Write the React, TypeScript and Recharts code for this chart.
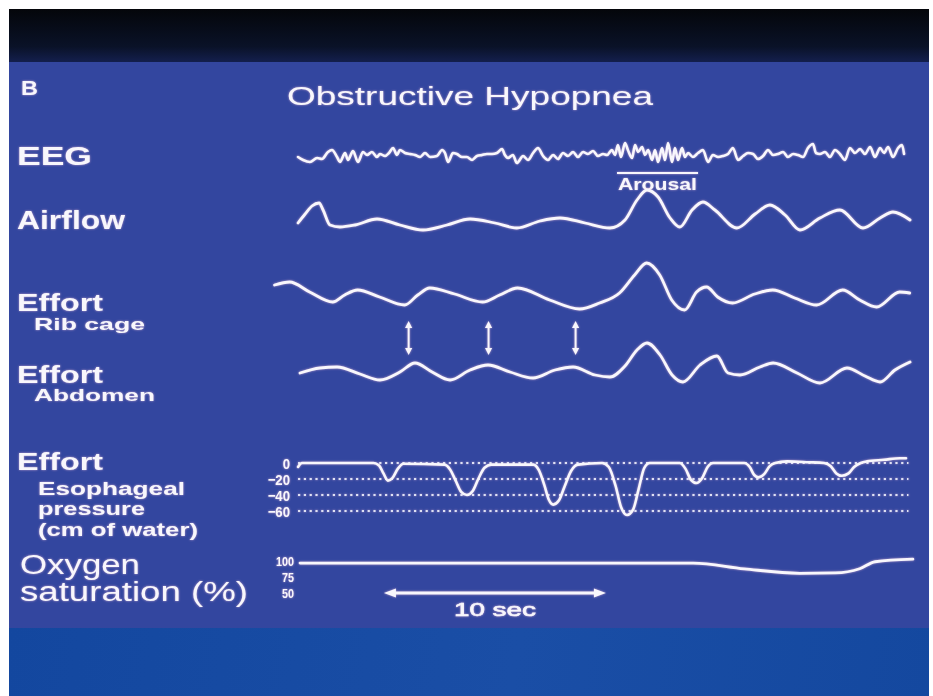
import React from 'react';
import { LineChart, Line, XAxis, YAxis, ReferenceLine } from 'recharts';

// ---- scale of the recording (time axis) ----
const PX_PER_SEC = 22.2;
const T0_X = 298;
const PAD = 6;
const FONT = '"Liberation Sans", Arial, Helvetica, sans-serif';
const INK = '#f8f7fc';
const GLOW = 'drop-shadow(0 0 1px rgba(255,200,225,0.65))';

type Pt = [number, number];

// ---- signals: [time (s), value] ----
const EEG: Pt[] = [
  [0, -1], [0.23, -4], [0.54, -6], [0.86, -2], [1.08, -3], [1.35, 4], [1.53, 6], [1.76, -1], [1.89, -6],
  [2.12, 3], [2.25, -4], [2.48, 5], [2.7, -6], [2.93, 4], [3.11, 1], [3.33, 4], [3.56, -1], [3.69, 2],
  [3.92, 0], [4.1, 3], [4.28, 8], [4.46, 1], [4.59, 6], [4.82, 3], [5.05, 2], [5.27, 1], [5.5, -1],
  [5.72, 3], [5.95, -1], [6.26, 0], [6.49, 6], [6.62, 3], [6.76, -6], [6.98, 3], [7.16, 2], [7.39, -1],
  [7.61, -1], [7.84, -4], [8.06, 0], [8.29, 1], [8.51, 2], [8.74, 2], [8.96, 3], [9.19, 7], [9.32, 1],
  [9.46, -2], [9.68, 1], [9.86, -7], [10.14, 0], [10.36, -4], [10.59, 3], [10.81, 8], [11.04, 0],
  [11.26, -4], [11.49, 1], [11.71, -3], [11.94, 3], [12.16, 0], [12.39, 4], [12.61, -1], [12.84, 4],
  [13.06, 2], [13.29, 5], [13.51, 0], [13.74, 2], [13.92, 1], [14.14, 6], [14.28, 1], [14.41, 11],
  [14.55, -1], [14.73, 13], [14.86, 6], [15.05, -2], [15.18, 11], [15.32, 4], [15.5, 9], [15.63, 1],
  [15.77, 6], [15.95, -4], [16.08, 6], [16.22, -6], [16.4, 8], [16.53, -4], [16.67, 13], [16.85, -6],
  [16.98, 8], [17.12, -4], [17.3, 8], [17.43, -1], [17.57, 3], [17.79, -1], [18.02, 3], [18.24, 6],
  [18.47, -6], [18.69, 1], [18.92, -1], [19.14, 0], [19.37, 2], [19.59, 8], [19.82, -4], [20.05, 0],
  [20.27, 3], [20.5, 2], [20.72, -3], [20.95, 0], [21.17, 6], [21.4, 1], [21.62, 2], [21.85, 4],
  [22.07, -1], [22.3, 2], [22.52, 1], [22.75, -1], [22.97, 8], [23.2, 12], [23.33, 3], [23.51, 2],
  [23.74, 4], [23.96, -1], [24.19, 6], [24.41, 2], [24.64, -4], [24.86, 8], [25.09, 3], [25.32, 7],
  [25.54, 2], [25.77, 9], [25.99, -1], [26.22, 8], [26.4, 3], [26.58, 9], [26.8, -1], [27.03, 8],
  [27.21, 11], [27.3, 2],
];

const AIRFLOW: Pt[] = [
  [0, 4], [0.32, 13], [0.63, 21], [0.95, 24], [1.13, 17], [1.44, 2], [1.89, 0], [2.57, 2], [3.56, 8],
  [4.59, 2], [5.63, -3], [6.71, 2], [7.75, 8], [8.87, 4], [9.86, -1], [10.9, 6], [11.8, 9], [12.93, 4],
  [14.05, -1], [14.73, 7], [15.27, 27], [15.72, 37], [16.22, 30], [16.76, 9], [17.2, 0], [17.75, 17],
  [18.24, 25], [18.78, 17], [19.77, -1], [20.59, 13], [21.26, 22], [21.94, 12], [22.61, -3], [23.51, 9],
  [24.41, 17], [25.45, -1], [26.22, 9], [26.8, 15], [27.57, 7],
];

const RIB_CAGE: Pt[] = [
  [-1.04, 15], [-0.36, 18], [0.54, 8], [1.58, -2], [2.12, 5], [2.7, 10], [3.69, 3], [4.82, -5], [5.41, 5],
  [5.95, 12], [7.07, 6], [8.33, -2], [9.1, 5], [9.91, 12], [11.35, 0], [12.7, -9], [13.6, -3], [14.5, 7],
  [15.18, 25], [15.72, 37], [16.31, 25], [16.85, 0], [17.43, -10], [17.97, 8], [18.42, 13], [18.92, 3],
  [19.59, -3], [20.59, 6], [21.4, 10], [22.39, 2], [23.38, -5], [24.55, 10], [25.32, 0], [26.08, -7],
  [27.12, 8], [27.57, 7],
];

const ABDOMEN: Pt[] = [
  [0.09, -1], [0.99, 4], [1.76, 5], [2.79, -2], [3.69, -8], [4.59, 0], [5.27, 9], [6.04, 0], [6.85, -8],
  [7.75, 2], [8.56, 7], [9.55, 0], [10.59, -6], [11.58, 2], [12.39, 5], [13.38, -3], [14.05, -5],
  [14.73, 6], [15.27, 22], [15.72, 29], [16.31, 17], [16.85, -3], [17.34, -10], [18.11, 7], [18.87, 16],
  [19.37, -1], [19.91, -3], [20.81, 5], [21.4, 9], [22.48, -1], [23.51, -11], [24.73, 4], [25.54, -4],
  [26.22, -10], [26.89, 2], [27.57, 10],
];

// esophageal pressure, cm H2O
const ESOPHAGEAL: Pt[] = [
  [0, -5], [0.18, 0], [1.5, 0], [3.4, 0],
  [3.65, -3], [3.85, -13], [4.05, -22], [4.25, -19], [4.5, -7], [4.75, -1],
  [6.6, -2],
  [6.85, -8], [7.1, -22], [7.35, -36], [7.61, -40], [7.87, -35], [8.12, -20], [8.4, -6], [8.7, -2],
  [10.6, -2],
  [10.85, -9], [11.1, -28], [11.3, -46], [11.5, -52], [11.75, -47], [12.0, -30], [12.3, -10], [12.6, -2],
  [13.7, 0],
  [14.0, -5], [14.3, -28], [14.55, -55], [14.82, -65], [15.1, -58], [15.35, -32], [15.6, -6], [15.85, 0],
  [17.2, 0],
  [17.45, -7], [17.7, -21], [17.95, -25], [18.2, -19], [18.45, -5], [18.7, 0],
  [20.1, 0],
  [20.35, -5], [20.55, -15], [20.75, -18], [21.0, -14], [21.25, -4], [21.5, 0],
  [22.03, 2], [23.0, 1], [23.7, 0],
  [24.0, -4], [24.25, -13], [24.5, -16], [24.8, -13], [25.05, -5], [25.35, 0],
  [25.63, 2], [26.4, 4], [27.12, 6], [27.39, 6],
];

// oxygen saturation, %
const SPO2: Pt[] = [
  [0.09, 97], [10.0, 97], [17.8, 97], [20.1, 88], [22.6, 81], [24.2, 81.5], [25.3, 88], [26.0, 99], [27.7, 103],
];

const ESO_TICKS = [0, -20, -40, -60];
const SPO2_TICKS = [100, 75, 50];
const PARADOX_ARROWS = [5.0, 8.6, 12.52];
const AROUSAL_SPAN: [number, number] = [14.37, 18.02];
const SCALE_BAR = { start: 3.87, seconds: 10 };

const toRows = (pts: Pt[]) => pts.map(([t, v]) => ({ t, v }));

type PanelProps = {
  data: { t: number; v?: number }[];
  tDomain: [number, number];
  vDomain: [number, number];
  refV: number;
  refY: number;
  k: number;
  axisWidth?: number;
  ticks?: number[];
  tick?: any;
  tickMargin?: number;
  curve?: 'linear' | 'monotone';
  strokeWidth?: number;
  showLine?: boolean;
  children?: React.ReactNode;
};

function Panel(p: PanelProps) {
  const aw = p.axisWidth ?? 0;
  const plotW = (p.tDomain[1] - p.tDomain[0]) * PX_PER_SEC;
  const plotH = (p.vDomain[1] - p.vDomain[0]) * p.k;
  const plotTop = p.refY - (p.vDomain[1] - p.refV) * p.k;
  const plotLeft = T0_X + p.tDomain[0] * PX_PER_SEC;
  const width = plotW + aw + 2 * PAD;
  const height = plotH + 2 * PAD;
  const showLine = p.showLine !== false;
  return (
    <div style={{ position: 'absolute', left: plotLeft - aw - PAD, top: plotTop - PAD, width, height, filter: GLOW }}>
      <LineChart width={width} height={height} data={p.data} margin={{ top: PAD, right: PAD, bottom: PAD, left: PAD }}>
        <XAxis dataKey="t" type="number" domain={p.tDomain} hide />
        <YAxis
          type="number"
          domain={p.vDomain}
          hide={!p.ticks}
          width={aw}
          ticks={p.ticks}
          tick={p.tick}
          interval={0}
          axisLine={false}
          tickLine={false}
          tickSize={0}
          tickMargin={p.tickMargin ?? 4}
        />
        {p.children}
        <Line
          dataKey="v"
          type={p.curve ?? 'monotone'}
          stroke={showLine ? INK : 'none'}
          strokeWidth={p.strokeWidth ?? 2.8}
          strokeLinecap="round"
          strokeLinejoin="round"
          dot={false}
          activeDot={false}
          isAnimationActive={false}
        />
      </LineChart>
    </div>
  );
}

const makeTick = (size: number, sx: number, fmt: (v: number) => string) => (props: any) => {
  const { x, y, payload } = props;
  return (
    <text
      transform={`translate(${x},${y}) scale(${sx},1)`}
      x={0}
      y={0}
      dy="0.36em"
      textAnchor="end"
      fontFamily={FONT}
      fontWeight={700}
      fontSize={size}
      fill={INK}
    >
      {fmt(payload.value)}
    </text>
  );
};

const esoTick = makeTick(15.5, 0.85, (v) => (v === 0 ? '0' : '\u2212' + Math.abs(v)));
const spo2Tick = makeTick(13.5, 0.8, (v) => String(v));

const DoubleArrowV = (props: any) => {
  const { x1, y1, y2 } = props;
  const top = Math.min(y1, y2);
  const bot = Math.max(y1, y2);
  const h = 7;
  const w = 3.6;
  return (
    <g>
      <line x1={x1} y1={top + h - 1} x2={x1} y2={bot - h + 1} stroke={INK} strokeWidth={2} />
      <polygon points={`${x1},${top} ${x1 - w},${top + h} ${x1 + w},${top + h}`} fill={INK} />
      <polygon points={`${x1},${bot} ${x1 - w},${bot - h} ${x1 + w},${bot - h}`} fill={INK} />
    </g>
  );
};

const ArousalMark = (props: any) => {
  const { x1, x2, y1 } = props;
  const a = Math.min(x1, x2);
  const b = Math.max(x1, x2);
  return (
    <g>
      <line x1={a} y1={y1} x2={b} y2={y1} stroke={INK} strokeWidth={1.8} />
      <text
        x={a + 1}
        y={y1 + 17}
        textLength={b - a - 2}
        lengthAdjust="spacingAndGlyphs"
        fontFamily={FONT}
        fontWeight={700}
        fontSize={16}
        fill={INK}
      >
        Arousal
      </text>
    </g>
  );
};

const ScaleBarMark = (props: any) => {
  const { x1, x2, y1 } = props;
  const a = Math.min(x1, x2);
  const b = Math.max(x1, x2);
  const h = 12;
  const w = 4.5;
  const cx = (a + b) / 2;
  return (
    <g>
      <line x1={a + h - 2} y1={y1} x2={b - h + 2} y2={y1} stroke={INK} strokeWidth={3} />
      <polygon points={`${a},${y1} ${a + h},${y1 - w} ${a + h},${y1 + w}`} fill={INK} />
      <polygon points={`${b},${y1} ${b - h},${y1 - w} ${b - h},${y1 + w}`} fill={INK} />
      <text
        x={cx - 41}
        y={y1 + 23}
        textLength={82}
        lengthAdjust="spacingAndGlyphs"
        fontFamily={FONT}
        fontWeight={400}
        fontSize={19}
        fill={INK}
        stroke={INK}
        strokeWidth={0.6}
      >
        {`${SCALE_BAR.seconds} sec`}
      </text>
    </g>
  );
};

type LabelDef = { text: string; x: number; y: number; w: number; size: number; bold: boolean };

const LABELS: LabelDef[] = [
  { text: 'B', x: 21, y: 95, w: 17, size: 20, bold: true },
  { text: 'Obstructive Hypopnea', x: 287, y: 105, w: 366, size: 26, bold: false },
  { text: 'EEG', x: 17, y: 165, w: 75, size: 25, bold: true },
  { text: 'Airflow', x: 17, y: 229, w: 108, size: 25, bold: true },
  { text: 'Effort', x: 17, y: 311, w: 86, size: 24, bold: true },
  { text: 'Rib cage', x: 34, y: 330, w: 111, size: 17, bold: true },
  { text: 'Effort', x: 17, y: 383, w: 86, size: 24, bold: true },
  { text: 'Abdomen', x: 34, y: 401, w: 121, size: 17, bold: true },
  { text: 'Effort', x: 17, y: 470, w: 86, size: 24, bold: true },
  { text: 'Esophageal', x: 38, y: 495, w: 147, size: 18, bold: true },
  { text: 'pressure', x: 38, y: 515, w: 107, size: 18, bold: true },
  { text: '(cm of water)', x: 38, y: 536, w: 160, size: 18, bold: true },
  { text: 'Oxygen', x: 20, y: 574, w: 120, size: 27, bold: false },
  { text: 'saturation (%)', x: 20, y: 601, w: 228, size: 27, bold: false },
];

export default function App() {
  const tFull: [number, number] = [0, 27.8];
  const tRib: [number, number] = [-1.2, 27.8];
  const arrowRows = PARADOX_ARROWS.map((t) => ({ t, v: 0.5 }));
  const arousalRows = AROUSAL_SPAN.map((t) => ({ t, v: 1 }));
  const scaleRows = [SCALE_BAR.start, SCALE_BAR.start + SCALE_BAR.seconds].map((t) => ({ t, v: 1 }));
  return (
    <div style={{ position: 'absolute', left: 0, top: 0, width: 933, height: 696, background: '#ffffff', overflow: 'hidden' }}>
      <div style={{ position: 'absolute', left: 9, top: 9, width: 920, height: 54, background: 'linear-gradient(#04060a, #0a1228 70%, #142050)' }} />
      <div style={{ position: 'absolute', left: 9, top: 62, width: 920, height: 566, background: '#33469f' }} />
      <div style={{ position: 'absolute', left: 9, top: 628, width: 920, height: 68, background: 'linear-gradient(100deg, #13479f, #1a4ea6 55%, #14489f)' }} />

      <svg width={933} height={696} style={{ position: 'absolute', left: 0, top: 0, filter: GLOW }}>
        {LABELS.map((l, i) => (
          <text
            key={i}
            x={l.x}
            y={l.y}
            textLength={l.w}
            lengthAdjust="spacingAndGlyphs"
            fontFamily={FONT}
            fontWeight={l.bold ? 700 : 400}
            fontSize={l.size}
            fill={INK}
          >
            {l.text}
          </text>
        ))}
      </svg>

      {/* EEG */}
      <Panel data={toRows(EEG)} tDomain={tFull} vDomain={[-12, 16]} refV={0} refY={156} k={1} curve="monotone" strokeWidth={2.6} />
      {/* Arousal marker */}
      <Panel data={arousalRows} tDomain={tFull} vDomain={[0, 1]} refV={1} refY={173} k={22} showLine={false}>
        <ReferenceLine
          segment={[{ x: AROUSAL_SPAN[0], y: 1 }, { x: AROUSAL_SPAN[1], y: 1 }]}
          ifOverflow="visible"
          shape={ArousalMark}
        />
      </Panel>
      {/* Airflow */}
      <Panel data={toRows(AIRFLOW)} tDomain={tFull} vDomain={[-8, 42]} refV={0} refY={227} k={1} />
      {/* Rib cage */}
      <Panel data={toRows(RIB_CAGE)} tDomain={tRib} vDomain={[-14, 42]} refV={0} refY={300} k={1} />
      {/* paradox arrows */}
      <Panel data={arrowRows} tDomain={tRib} vDomain={[0, 1]} refV={1} refY={321} k={34} showLine={false}>
        {PARADOX_ARROWS.map((t) => (
          <ReferenceLine key={t} x={t} ifOverflow="visible" shape={DoubleArrowV} />
        ))}
      </Panel>
      {/* Abdomen */}
      <Panel data={toRows(ABDOMEN)} tDomain={tFull} vDomain={[-14, 34]} refV={0} refY={372} k={1} />
      {/* Esophageal pressure */}
      <Panel
        data={toRows(ESOPHAGEAL)}
        tDomain={[0, 27.6]}
        vDomain={[-72, 10]}
        refV={0}
        refY={463}
        k={0.8}
        axisWidth={36}
        ticks={ESO_TICKS}
        tick={esoTick}
        tickMargin={8}
        strokeWidth={2.6}
      >
        {ESO_TICKS.map((v) => (
          <ReferenceLine
            key={v}
            segment={[{ x: 0, y: v }, { x: 27.5, y: v }]}
            stroke="#dfe2f4"
            strokeWidth={2}
            strokeDasharray="2.2 3.6"
            ifOverflow="visible"
          />
        ))}
      </Panel>
      {/* Oxygen saturation */}
      <Panel
        data={toRows(SPO2)}
        tDomain={tFull}
        vDomain={[44, 108]}
        refV={100}
        refY={561}
        k={0.64}
        axisWidth={30}
        ticks={SPO2_TICKS}
        tick={spo2Tick}
        tickMargin={4}
        strokeWidth={2.8}
      />
      {/* 10 s scale bar */}
      <Panel data={scaleRows} tDomain={tFull} vDomain={[0, 1]} refV={1} refY={593} k={30} showLine={false}>
        <ReferenceLine
          segment={[{ x: SCALE_BAR.start, y: 1 }, { x: SCALE_BAR.start + SCALE_BAR.seconds, y: 1 }]}
          ifOverflow="visible"
          shape={ScaleBarMark}
        />
      </Panel>
    </div>
  );
}
